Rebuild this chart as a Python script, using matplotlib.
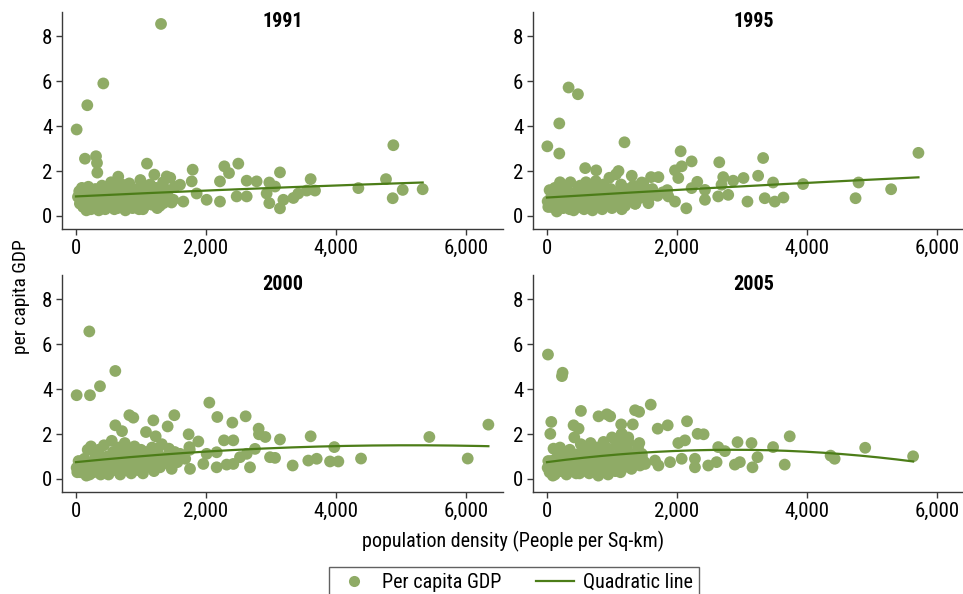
import matplotlib.pyplot as plt
import numpy as np
from matplotlib.lines import Line2D

plt.rcParams["font.family"] = ["Liberation Sans Narrow", "Roboto Condensed",
                               "Liberation Sans", "DejaVu Sans"]

years = ["1991", "1995", "2000", "2005"]

# (population density, per capita GDP)
points_1991 = [
    (1308, 8.55), (420, 5.9), (174, 4.93), (10, 3.85), (138, 2.55), (308, 2.66),
    (323, 2.36), (328, 1.93), (1092, 2.33), (1205, 1.84), (1795, 2.06), (2282, 2.21),
    (2354, 1.91), (2497, 2.33), (2626, 1.57), (2779, 1.54), (2626, 0.87), (2974, 1.49),
    (2974, 0.57), (3138, 1.94), (3138, 0.34), (2933, 1.0), (3190, 0.72), (3344, 0.8),
    (3420, 1.0), (3610, 1.64), (3549, 1.13), (3677, 1.13), (4344, 1.24), (4769, 1.64),
    (4882, 3.15), (4872, 0.79), (5026, 1.16), (5333, 1.19), (3062, 1.31), (2215, 1.54),
    (2215, 0.64), (2472, 0.87), (2010, 0.72), (1856, 1.0), (1780, 1.54), (1600, 1.39),
    (1395, 1.76), (1497, 0.72), (1651, 0.64), (1344, 0.57),
    (30, 0.85), (60, 0.55), (90, 1.25), (110, 0.4), (140, 0.95), (160, 0.25), (190, 1.3),
    (210, 0.65), (240, 1.05), (260, 0.35), (280, 0.8), (300, 1.2), (330, 0.5), (350, 0.25),
    (370, 0.95), (400, 1.35), (420, 0.6), (450, 0.3), (470, 1.1), (490, 0.75), (520, 0.45),
    (540, 1.5), (560, 0.9), (590, 0.3), (610, 1.25), (630, 0.6), (650, 1.75), (670, 1.0),
    (690, 0.4), (710, 1.4), (730, 0.7), (760, 0.25), (780, 1.15), (800, 0.55), (820, 1.45),
    (850, 0.85), (870, 0.35), (890, 1.2), (920, 0.6), (950, 1.0), (970, 0.3), (990, 1.6),
    (1010, 0.75), (1040, 1.3), (1060, 0.45), (1090, 1.05), (1120, 0.65), (1140, 1.4),
    (1170, 0.5), (1200, 0.95), (1230, 1.25), (1260, 0.7), (1290, 0.45), (1310, 1.05),
    (1340, 1.5), (1380, 0.85), (1420, 1.15), (1450, 1.7), (1470, 0.6), (1520, 1.3),
    (50, 1.1), (130, 0.7), (180, 0.5), (230, 0.3), (320, 0.7), (380, 0.4), (440, 0.85),
    (510, 1.15), (580, 0.6), (640, 0.35), (700, 0.85), (750, 0.5), (840, 1.05), (910, 0.4),
    (960, 0.8), (1030, 0.3), (1100, 0.9), (1180, 1.15), (1250, 0.35), (1350, 0.6),
]

points_1995 = [
    (332, 5.72), (476, 5.42), (189, 4.12), (5, 3.1), (189, 2.78), (1192, 3.28), (588, 2.13),
    (757, 2.03), (1304, 1.79), (1601, 1.73), (1714, 1.73), (2056, 2.88), (2072, 2.21),
    (1969, 2.03), (2225, 2.43), (2020, 1.69), (2312, 1.52), (2650, 2.39), (2711, 1.73),
    (2864, 1.57), (3023, 1.69), (3248, 1.79), (3325, 2.58), (3478, 1.49), (3939, 1.42),
    (3084, 0.64), (3350, 0.79), (3504, 0.64), (3637, 0.82), (4793, 1.49), (4747, 0.79),
    (5294, 1.19), (5714, 2.81), (2143, 0.34), (2430, 0.72), (2634, 0.87), (2788, 0.94),
    (2685, 1.39), (2430, 1.16), (2225, 1.24), (1867, 0.87), (1969, 0.64), (1560, 0.57),
    (1355, 0.54), (1151, 0.3), (1100, 2.0), (1458, 1.49),
    (10, 0.65), (40, 1.15), (70, 0.4), (100, 0.9), (120, 1.25), (150, 0.2), (170, 0.6),
    (200, 1.5), (220, 1.0), (250, 0.35), (270, 0.75), (300, 1.2), (330, 0.45), (360, 1.5),
    (380, 0.9), (410, 0.25), (430, 0.65), (460, 1.1), (490, 0.4), (510, 1.35), (540, 0.8),
    (570, 0.3), (600, 1.5), (620, 1.0), (650, 0.55), (680, 1.3), (700, 0.25), (720, 0.85),
    (750, 1.55), (770, 0.45), (800, 1.1), (830, 0.7), (850, 0.3), (870, 1.4), (900, 0.95),
    (930, 0.5), (960, 1.7), (980, 1.2), (1000, 0.35), (1030, 0.8), (1060, 1.85), (1080, 1.05),
    (1110, 0.6), (1140, 1.4), (1170, 0.9), (1200, 0.45), (1230, 1.2), (1260, 0.7), (1300, 1.0),
    (1330, 1.35), (1360, 0.55), (1400, 1.1), (1430, 0.8), (1480, 1.45), (1520, 1.0),
    (1560, 0.75), (1620, 1.2), (1700, 0.9), (1780, 1.05), (1850, 1.15),
    (20, 0.4), (60, 0.8), (130, 0.55), (190, 0.35), (240, 0.85), (310, 0.65), (350, 0.3),
    (400, 1.0), (450, 0.55), (520, 0.6), (560, 1.15), (640, 0.8), (690, 0.45), (760, 1.0),
    (820, 0.4), (880, 0.65), (940, 1.0), (1020, 0.55), (1120, 1.1), (1250, 0.95),
]

points_2000 = [
    (205, 6.57), (605, 4.81), (369, 4.13), (10, 3.73), (215, 3.73), (821, 2.84), (882, 2.73),
    (605, 2.39), (708, 2.13), (1190, 2.61), (1077, 2.09), (1410, 2.34), (1513, 2.84),
    (1226, 1.9), (2051, 3.4), (2174, 2.76), (2405, 2.51), (2610, 2.79), (1733, 1.99),
    (1882, 1.67), (1744, 1.42), (2810, 2.24), (2815, 1.99), (2913, 1.87), (3138, 1.76),
    (2277, 1.72), (2420, 1.72), (3610, 1.9), (3974, 1.42), (3333, 0.6), (3574, 0.82),
    (3703, 0.9), (3908, 0.78), (4036, 0.78), (4385, 0.91), (5436, 1.87), (6026, 0.91),
    (6344, 2.42), (2677, 0.52), (2985, 0.97), (3062, 0.94), (2754, 1.34), (2420, 0.67),
    (2318, 0.64), (2164, 0.52), (1959, 0.67), (1754, 0.45), (1472, 0.45), (2010, 1.12),
    (2164, 1.19), (2523, 0.97), (2626, 1.12), (1600, 1.12), (1292, 0.52),
    (10, 0.5), (40, 0.8), (70, 0.3), (100, 0.6), (130, 0.9), (160, 0.15), (180, 1.3),
    (200, 0.45), (230, 1.45), (250, 0.75), (270, 0.3), (300, 1.05), (320, 0.55), (350, 1.3),
    (380, 0.2), (400, 0.8), (430, 1.5), (450, 0.45), (480, 1.0), (500, 0.2), (520, 0.7),
    (550, 1.7), (570, 1.2), (600, 0.4), (620, 0.9), (650, 1.4), (680, 0.2), (700, 0.65),
    (720, 1.15), (750, 1.6), (770, 0.4), (800, 0.9), (830, 1.3), (850, 0.25), (880, 0.6),
    (900, 1.45), (920, 1.05), (950, 0.4), (980, 0.75), (1000, 1.3), (1030, 0.25), (1060, 0.9),
    (1090, 1.2), (1110, 0.55), (1140, 1.0), (1170, 1.4), (1200, 0.35), (1230, 0.8),
    (1260, 1.15), (1290, 0.6), (1320, 1.55), (1360, 0.95), (1400, 0.7), (1430, 1.35),
    (1470, 0.9), (1520, 1.2), (1560, 0.75), (1620, 1.05), (1680, 0.9), (1750, 1.3),
    (20, 0.3), (60, 0.6), (110, 0.35), (150, 0.75), (210, 0.2), (280, 0.6), (330, 0.95),
    (370, 0.5), (420, 0.3), (460, 0.75), (530, 0.45), (580, 0.8), (640, 0.55), (710, 0.35),
    (760, 1.0), (820, 0.6), (890, 0.9), (960, 0.6), (1050, 0.5), (1150, 0.75),
]

points_2005 = [
    (15, 5.54), (240, 4.73), (230, 4.58), (66, 2.54), (51, 2.01), (522, 3.03), (409, 2.39),
    (486, 2.24), (793, 2.79), (921, 2.88), (972, 2.79), (1141, 2.43), (1320, 2.43),
    (1355, 3.06), (1417, 2.99), (1596, 3.31), (1703, 2.24), (1857, 2.39), (2154, 2.57),
    (2317, 2.01), (2409, 1.99), (2123, 1.72), (2020, 1.6), (2634, 1.42), (2737, 1.24),
    (2931, 1.64), (3146, 1.6), (3478, 1.42), (3734, 1.9), (3238, 0.97), (3161, 0.52),
    (2890, 0.64), (2967, 0.75), (3657, 0.64), (4363, 1.04), (4425, 0.9), (4895, 1.39),
    (5632, 1.01), (1714, 0.6), (1893, 0.75), (2072, 0.9), (2276, 0.52), (2481, 0.6),
    (2609, 0.75), (2276, 0.9), (1662, 0.82), (1509, 0.67), (1458, 1.12), (1253, 1.64),
    (1151, 2.01),
    (10, 0.5), (40, 0.3), (70, 0.8), (100, 1.35), (120, 0.2), (150, 0.6), (170, 1.0),
    (200, 1.4), (220, 0.35), (250, 0.75), (270, 1.15), (300, 0.2), (320, 0.55), (350, 1.3),
    (380, 0.9), (400, 0.35), (420, 1.85), (440, 0.65), (470, 1.1), (500, 0.25), (520, 1.55),
    (540, 0.8), (570, 0.4), (600, 1.25), (620, 0.95), (650, 0.25), (670, 1.6), (700, 0.6),
    (720, 1.05), (750, 0.3), (770, 1.4), (800, 0.75), (820, 0.45), (850, 1.2), (870, 1.65),
    (900, 0.3), (920, 0.9), (950, 1.35), (970, 0.55), (1000, 1.85), (1020, 1.0), (1050, 0.35),
    (1070, 1.5), (1100, 0.75), (1120, 1.2), (1150, 2.0), (1170, 0.5), (1200, 1.0), (1230, 1.4),
    (1260, 0.7), (1300, 0.45), (1330, 1.1), (1360, 0.85), (1400, 1.4), (1430, 0.6),
    (1460, 1.0), (1500, 0.75), (1420, 1.6), (1250, 1.85), (1100, 1.7),
    (20, 0.8), (60, 0.55), (90, 0.15), (140, 0.9), (190, 0.5), (240, 1.2), (290, 0.75),
    (340, 0.4), (390, 1.1), (450, 0.25), (490, 0.85), (560, 0.6), (610, 0.35), (690, 0.9),
    (740, 1.2), (790, 0.15), (860, 0.6), (940, 0.2), (1010, 0.6), (1130, 0.3),
]

# quadratic fit line at three densities per panel
fit_x = [(0, 2000, 5333), (0, 2000, 5714), (0, 3000, 6344), (0, 2800, 5632)]
fit_y = [(0.87, 1.13, 1.49), (0.82, 1.16, 1.72), (0.75, 1.37, 1.46), (0.75, 1.30, 0.78)]

panels = [points_1991, points_1995, points_2000, points_2005]

dot_color = "#8fab66"
line_color = "#4c7d18"
axis_color = "#3a3a3a"

fig = plt.figure(figsize=(9.63, 5.94), dpi=100)

# panel boxes in figure fractions (left, bottom, width, height)
boxes = [
    (0.0644, 0.6145, 0.458, 0.366),
    (0.5535, 0.6145, 0.458, 0.366),
    (0.0644, 0.1717, 0.458, 0.366),
    (0.5535, 0.1717, 0.458, 0.366),
]

for year, pts, box, fx, fy in zip(years, panels, boxes, fit_x, fit_y):
    ax = fig.add_axes(box)
    x, y = np.array(pts).T
    ax.scatter(x, y, s=72, color=dot_color, edgecolors="none", zorder=2, clip_on=False)

    coef = np.polyfit(fx, fy, 2)
    xs = np.linspace(fx[0], fx[-1], 200)
    ax.plot(xs, np.polyval(coef, xs), color=line_color, lw=1.6, zorder=3)

    ax.set_xlim(-215, 6570)
    ax.set_ylim(-0.58, 9.1)
    ax.set_xticks([0, 2000, 4000, 6000])
    ax.set_xticklabels(["0", "2,000", "4,000", "6,000"])
    ax.set_yticks([0, 2, 4, 6, 8])
    for side in ["top", "right"]:
        ax.spines[side].set_visible(False)
    for side in ["left", "bottom"]:
        ax.spines[side].set_color(axis_color)
        ax.spines[side].set_linewidth(1.0)
    ax.tick_params(direction="out", length=4.5, width=1, color=axis_color,
                   labelsize=15, labelcolor="black", pad=2.5)
    ax.text(0.5, 1.0, year, transform=ax.transAxes, ha="center", va="top",
            fontsize=14.5, fontweight="bold")

fig.text(0.022, 0.5, "per capita GDP", rotation=90, ha="center", va="center", fontsize=14)
fig.text(0.533, 0.089, "population density (People per Sq-km)", ha="center", va="center",
         fontsize=14.5)

handles = [
    Line2D([], [], marker="o", ls="none", markersize=8, color=dot_color, markeredgecolor="none"),
    Line2D([], [], color=line_color, lw=1.6),
]
leg = fig.legend(handles, ["Per capita GDP", "Quadratic line"], ncol=2,
                 loc="upper center", bbox_to_anchor=(0.534, 0.0455), borderaxespad=0,
                 fontsize=14.5, frameon=True, fancybox=False, edgecolor=axis_color,
                 handlelength=1.9, columnspacing=1.7, borderpad=0.3, handletextpad=0.45)
leg.get_frame().set_linewidth(1.0)

fig.savefig("out.png", dpi=100)
